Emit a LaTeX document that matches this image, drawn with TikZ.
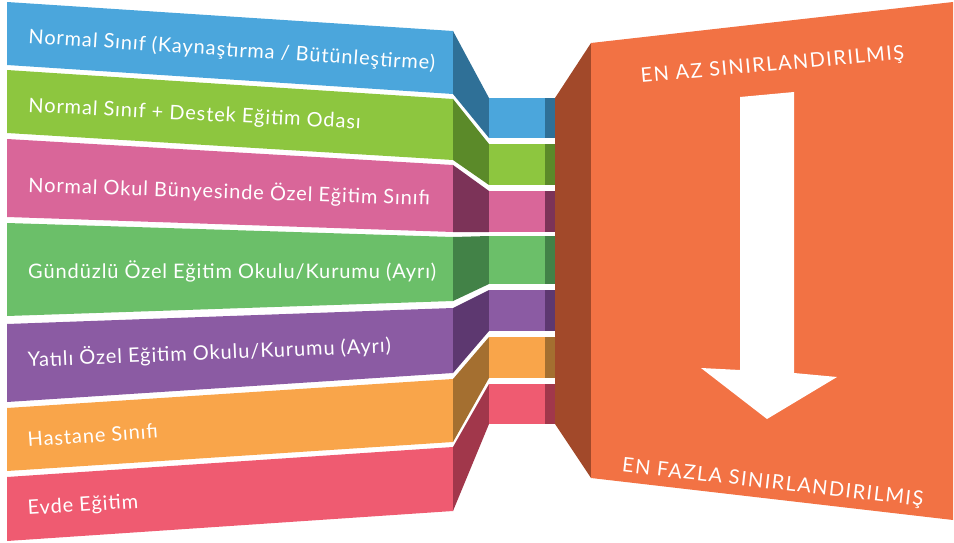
\documentclass[tikz,border=0pt]{standalone}
\usepackage{fontspec}
\setmainfont{Lato}
\newfontfamily\bandfont{Lato}[LetterSpace=4.5]
\newfontfamily\boardfont{Lato}[LetterSpace=7.5]

\definecolor{bluefront}{HTML}{4BA6DC}
\definecolor{blueside}{HTML}{2F7097}
\definecolor{greenfront}{HTML}{8DC63F}
\definecolor{greenside}{HTML}{5B8A29}
\definecolor{pinkfront}{HTML}{D96699}
\definecolor{pinkside}{HTML}{7C3358}
\definecolor{leaffront}{HTML}{6BBF69}
\definecolor{leafside}{HTML}{428247}
\definecolor{purplefront}{HTML}{8B5BA3}
\definecolor{purpleside}{HTML}{5D3870}
\definecolor{amberfront}{HTML}{F9A54A}
\definecolor{amberside}{HTML}{A46F30}
\definecolor{redfront}{HTML}{EF5B71}
\definecolor{redside}{HTML}{A1374B}
\definecolor{boardfront}{HTML}{F27244}
\definecolor{boardside}{HTML}{A2492A}

\tikzset{
  bandtext/.style={text=white, inner sep=0pt, anchor=base west,
    font=\bandfont\fontsize{20}{24}\selectfont},
  boardtext/.style={text=white, inner sep=0pt, anchor=base,
    font=\boardfont\fontsize{20}{24}\selectfont},
}

\begin{document}
\begin{tikzpicture}[x=1pt, y=-1pt]

    % Fix the page
    \useasboundingbox (0,0) rectangle (954,543);

    % Blue band
    \fill[bluefront] (7,2) -- (453,31) -- (453,94) -- (7,65) -- cycle;
    \fill[blueside] (453,31) -- (489,98) -- (489,138) -- (453,94) -- cycle;
    \fill[bluefront] (489,98) rectangle (545,138);
    \fill[blueside] (545,98) rectangle (555,138);

    % Green band
    \fill[greenfront] (7,70) -- (453,99) -- (453,160) -- (7,133) -- cycle;
    \fill[greenside] (453,99) -- (489,144) -- (489,185) -- (453,160) -- cycle;
    \fill[greenfront] (489,144) rectangle (545,185);
    \fill[greenside] (545,144) rectangle (555,185);

    % Pink band
    \fill[pinkfront] (7,139) -- (453,165) -- (453,232) -- (7,217) -- cycle;
    \fill[pinkside] (453,165) -- (489,191) -- (489,232) -- (453,232) -- cycle;
    \fill[pinkfront] (489,191) rectangle (545,232);
    \fill[pinkside] (545,191) rectangle (555,232);

    % Light green band
    \fill[leaffront] (7,223) -- (453,237) -- (453,301) -- (7,316) -- cycle;
    \fill[leafside] (453,237) -- (489,236) -- (489,284) -- (453,301) -- cycle;
    \fill[leaffront] (489,236) rectangle (545,284);
    \fill[leafside] (545,236) rectangle (555,284);

    % Purple band
    \fill[purplefront] (7,324) -- (453,308) -- (453,373) -- (7,402) -- cycle;
    \fill[purpleside] (453,308) -- (489,290) -- (489,331) -- (453,373) -- cycle;
    \fill[purplefront] (489,290) rectangle (545,331);
    \fill[purpleside] (545,290) rectangle (555,331);

    % Orange band
    \fill[amberfront] (7,408) -- (453,379) -- (453,442) -- (7,471) -- cycle;
    \fill[amberside] (453,379) -- (489,337) -- (489,378) -- (453,442) -- cycle;
    \fill[amberfront] (489,337) rectangle (545,378);
    \fill[amberside] (545,337) rectangle (555,378);

    % Red band
    \fill[redfront] (7,477) -- (453,447) -- (453,511) -- (7,541) -- cycle;
    \fill[redside] (453,447) -- (489,384) -- (489,424) -- (453,511) -- cycle;
    \fill[redfront] (489,384) rectangle (545,424);
    \fill[redside] (545,384) rectangle (555,424);

    % Orange board
    \fill[boardside] (555,98) -- (591,43) -- (591,478) -- (555,424) -- cycle;
    \fill[boardfront] (591,43) -- (953,2) -- (953,520) -- (591,478) -- cycle;

    % White arrow on the board
    \fill[white] (740,97) -- (794,92) -- (794,373) -- (837,377) -- (767,419)
        -- (701,368) -- (740,370) -- cycle;

    % Band labels
    \node[bandtext, rotate=-3.8] (normal) at (28,43)
        {Normal Sınıf (Kaynaştırma / Bütünleştirme)};
    \node[bandtext, rotate=-2.9] (destek) at (28,112)
        {Normal Sınıf + Destek Eğitim Odası};
    \node[bandtext, rotate=-1.9] (ozelsinif) at (28,192)
        {Normal Okul Bünyesinde Özel Eğitim Sınıfı};
    \node[bandtext] (gunduzlu) at (28,278)
        {Gündüzlü Özel Eğitim Okulu/Kurumu (Ayrı)};
    \node[bandtext, rotate=2.3] (yatili) at (28,367)
        {Yatılı Özel Eğitim Okulu/Kurumu (Ayrı)};
    \node[bandtext, rotate=4] (hastane) at (28,447) {Hastane Sınıfı};
    \node[bandtext, rotate=3.6] (evde) at (28,515) {Evde Eğitim};

    % Board labels
    \node[boardtext, rotate=5.2] (enaz) at (773,71) {EN AZ SINIRLANDIRILMIŞ};
    \node[boardtext, rotate=-6.5] (enfazla) at (772,489)
        {EN FAZLA SINIRLANDIRILMIŞ};

\end{tikzpicture}
\end{document}
